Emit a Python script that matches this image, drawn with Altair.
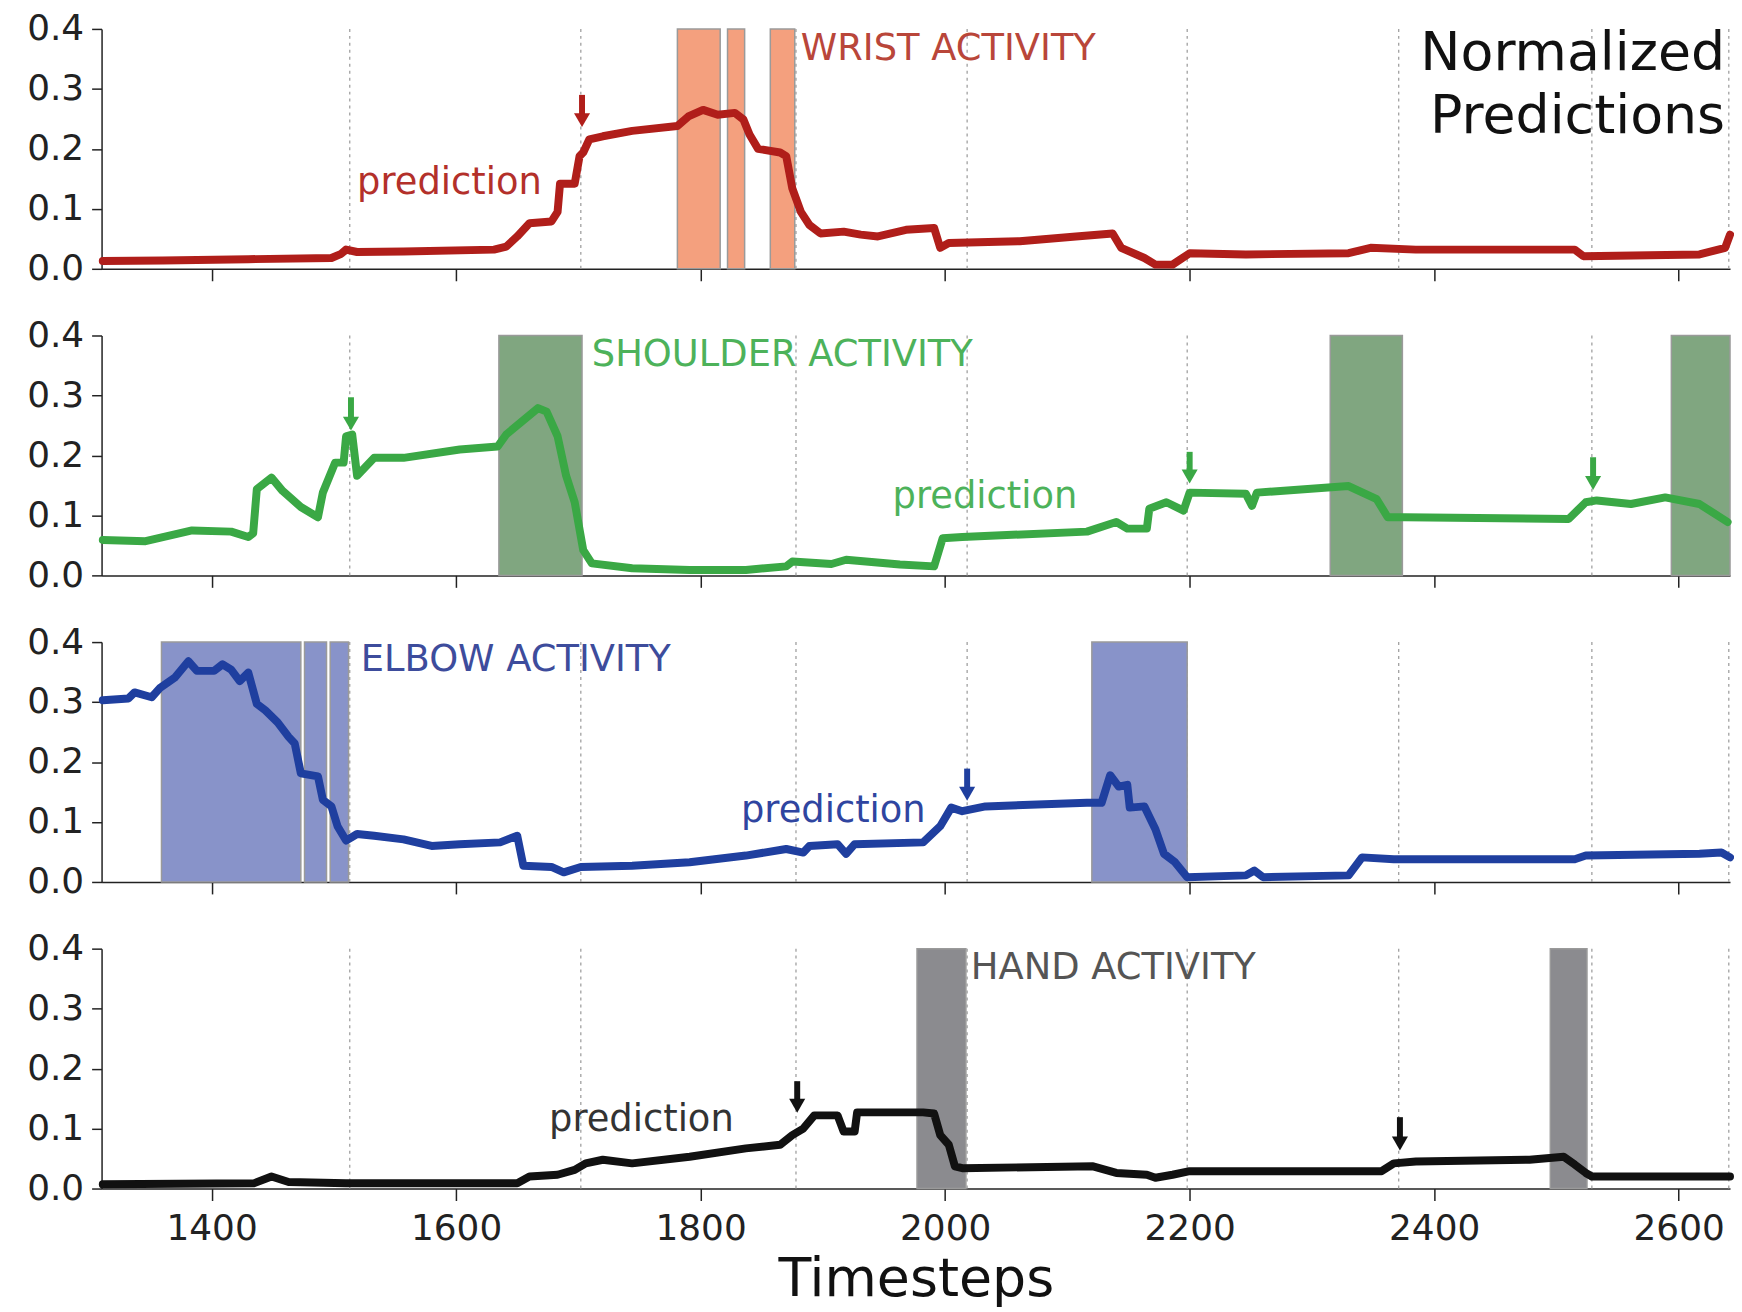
import altair as alt
import pandas as pd

# ---------------- data ----------------
X_DOMAIN = [1310, 2642]
x_ticks = [1400, 1600, 1800, 2000, 2200, 2400, 2600]
y_ticks = [0.0, 0.1, 0.2, 0.3, 0.4]
events = [1513, 1702, 1878, 2018, 2198, 2371, 2529, 2641]

wrist_x = [1311, 1360, 1430, 1498, 1506, 1510, 1519, 1557, 1631, 1641, 1650, 1660, 1678, 1683, 1685, 1697,
           1701, 1704, 1709, 1720, 1744, 1781, 1790, 1802, 1814, 1828, 1835, 1840, 1847, 1865, 1870, 1875,
           1882, 1889, 1898, 1917, 1931, 1945, 1968, 1991, 1996, 2003, 2061, 2107, 2137, 2144, 2163, 2172,
           2186, 2200, 2246, 2330, 2348, 2385, 2515, 2522, 2617, 2638, 2642]
wrist_y = [0.013, 0.014, 0.016, 0.018, 0.025, 0.032, 0.028, 0.029, 0.032, 0.037, 0.054, 0.076, 0.079, 0.095,
           0.142, 0.142, 0.188, 0.194, 0.216, 0.221, 0.230, 0.238, 0.254, 0.265, 0.257, 0.260, 0.249, 0.224,
           0.200, 0.194, 0.188, 0.134, 0.095, 0.073, 0.059, 0.062, 0.057, 0.054, 0.065, 0.068, 0.035, 0.043,
           0.046, 0.054, 0.059, 0.035, 0.018, 0.007, 0.007, 0.026, 0.024, 0.026, 0.035, 0.032, 0.032, 0.021,
           0.024, 0.035, 0.057]

shoulder_x = [1311, 1346, 1384, 1416, 1430, 1434, 1437, 1449, 1458, 1473, 1487, 1491, 1501, 1508, 1510, 1515,
              1519, 1533, 1557, 1603, 1634, 1641, 1667, 1674, 1683, 1690, 1697, 1704, 1711, 1744, 1791, 1837,
              1870, 1875, 1907, 1919, 1963, 1991, 1998, 2014, 2116, 2140, 2149, 2165, 2167, 2181, 2195, 2200,
              2246, 2251, 2255, 2330, 2353, 2362, 2376, 2510, 2524, 2533, 2561, 2589, 2617, 2640]
shoulder_y = [0.059, 0.057, 0.075, 0.073, 0.064, 0.070, 0.144, 0.163, 0.141, 0.114, 0.097, 0.138, 0.188, 0.188,
              0.232, 0.235, 0.166, 0.196, 0.196, 0.210, 0.215, 0.235, 0.279, 0.273, 0.232, 0.166, 0.122, 0.042,
              0.020, 0.012, 0.009, 0.009, 0.015, 0.023, 0.019, 0.026, 0.018, 0.015, 0.062, 0.064, 0.073, 0.089,
              0.078, 0.078, 0.111, 0.122, 0.108, 0.138, 0.136, 0.116, 0.138, 0.149, 0.127, 0.097, 0.097, 0.094,
              0.122, 0.125, 0.119, 0.130, 0.119, 0.089]

elbow_x = [1311, 1332, 1337, 1351, 1358, 1370, 1381, 1388, 1402, 1409, 1416, 1423, 1430, 1437, 1444, 1454,
           1463, 1468, 1473, 1487, 1491, 1498, 1503, 1510, 1519, 1533, 1557, 1580, 1603, 1636, 1650, 1655,
           1678, 1688, 1702, 1744, 1791, 1837, 1870, 1884, 1889, 1912, 1919, 1926, 1982, 1996, 2005, 2014,
           2033, 2116, 2128, 2135, 2142, 2149, 2151, 2163, 2172, 2179, 2188, 2198, 2246, 2253, 2260, 2330,
           2341, 2367, 2515, 2524, 2617, 2635, 2642]
elbow_y = [0.303, 0.306, 0.316, 0.308, 0.324, 0.341, 0.368, 0.352, 0.352, 0.363, 0.354, 0.335, 0.349, 0.297,
           0.286, 0.266, 0.242, 0.231, 0.181, 0.176, 0.137, 0.126, 0.093, 0.069, 0.080, 0.077, 0.071, 0.060,
           0.063, 0.066, 0.077, 0.027, 0.025, 0.016, 0.025, 0.027, 0.033, 0.044, 0.055, 0.049, 0.060, 0.063,
           0.047, 0.063, 0.066, 0.093, 0.124, 0.118, 0.126, 0.132, 0.132, 0.178, 0.159, 0.162, 0.124, 0.126,
           0.088, 0.047, 0.033, 0.008, 0.011, 0.019, 0.008, 0.011, 0.041, 0.038, 0.038, 0.044, 0.047, 0.049,
           0.041]

hand_x = [1311, 1435, 1449, 1463, 1510, 1650, 1660, 1683, 1697, 1706, 1720, 1744, 1791, 1837, 1865, 1875,
          1884, 1893, 1912, 1917, 1926, 1928, 1982, 1991, 1996, 2003, 2008, 2014, 2121, 2140, 2165, 2172,
          2186, 2200, 2357, 2367, 2385, 2478, 2506, 2515, 2524, 2529, 2642]
hand_y = [0.007, 0.009, 0.020, 0.011, 0.009, 0.009, 0.020, 0.023, 0.031, 0.042, 0.048, 0.042, 0.053, 0.067,
          0.073, 0.089, 0.100, 0.122, 0.122, 0.095, 0.095, 0.127, 0.127, 0.125, 0.089, 0.073, 0.037, 0.034,
          0.037, 0.026, 0.023, 0.018, 0.023, 0.029, 0.029, 0.042, 0.045, 0.048, 0.053, 0.040, 0.026, 0.020,
          0.020]

# activity intervals
wrist_start, wrist_end = [1781, 1822, 1857], [1816, 1836, 1877]
shoulder_start, shoulder_end = [1635, 2315, 2594], [1703, 2374, 2642]
elbow_start, elbow_end = [1359, 1476, 1497, 2120], [1473, 1494, 1512, 2198]
hand_start, hand_end = [1977, 2495], [2017, 2525]

# arrows (x, top, tip)
wrist_arrows = ([1703], [0.290], [0.235])
shoulder_arrows = ([1514, 2200, 2530], [0.297, 0.206, 0.197], [0.240, 0.152, 0.141])
elbow_arrows = ([2018], [0.189], [0.134])
hand_arrows = ([1879, 2372], [0.179, 0.119], [0.125, 0.062])

panels = [
    dict(x=wrist_x, y=wrist_y, s=wrist_start, e=wrist_end, arr=wrist_arrows,
         line="#b01e1a", bar="#f4a07e", tcol="#b9463a", pcol="#b3302a",
         label="WRIST ACTIVITY", lx=1882, ly=0.349, px=1519, py=0.125),
    dict(x=shoulder_x, y=shoulder_y, s=shoulder_start, e=shoulder_end, arr=shoulder_arrows,
         line="#3aa845", bar="#80a680", tcol="#4db25a", pcol="#4db25a",
         label="SHOULDER ACTIVITY", lx=1711, ly=0.349, px=1957, py=0.112),
    dict(x=elbow_x, y=elbow_y, s=elbow_start, e=elbow_end, arr=elbow_arrows,
         line="#1f3f9f", bar="#8893c9", tcol="#3d4c9c", pcol="#2f45a0",
         label="ELBOW ACTIVITY", lx=1522, ly=0.352, px=1833, py=0.100),
    dict(x=hand_x, y=hand_y, s=hand_start, e=hand_end, arr=hand_arrows,
         line="#111111", bar="#8b8b8f", tcol="#555555", pcol="#333333",
         label="HAND ACTIVITY", lx=2021, ly=0.350, px=1676, py=0.096),
]

title_lines = ["Normalized", "Predictions"]
title_x = [2638, 2638]
title_y = [0.331, 0.226]

FONT = "DejaVu Sans"
AX = "#222222"

xs = alt.Scale(domain=X_DOMAIN, nice=False, zero=False)
ys = alt.Scale(domain=[0, 0.4], nice=False)


def make_panel(p, bottom, first):
    if bottom:
        xax = alt.Axis(values=x_ticks, format="d", labelFontSize=36, labelFont=FONT, labelColor=AX,
                       tickSize=12, tickWidth=1.5, tickColor=AX, domainColor=AX, domainWidth=1.5,
                       labelPadding=11, grid=False, title="Timesteps", titleFontSize=54,
                       titleFont=FONT, titleFontWeight="normal", titleColor="#111", titlePadding=6)
    else:
        xax = alt.Axis(values=x_ticks, labels=False, tickSize=12, tickWidth=1.5, tickColor=AX,
                       domainColor=AX, domainWidth=1.5, grid=False, title=None)
    yax = alt.Axis(values=y_ticks, format=".1f", labelFontSize=36, labelFont=FONT, labelColor=AX,
                   tickSize=10, tickWidth=1.5, tickColor=AX, domainColor=AX, domainWidth=1.5,
                   labelPadding=8, grid=False, title=None)

    X = lambda f: alt.X(f, type="quantitative", scale=xs, axis=xax)
    Y = lambda f: alt.Y(f, type="quantitative", scale=ys, axis=yax)

    ev = pd.DataFrame({"x": events})
    rules = alt.Chart(ev).mark_rule(color="#a0a0a0", strokeDash=[3, 4], strokeWidth=1.3).encode(x=X("x"))

    bars_df = pd.DataFrame({"s": p["s"], "e": p["e"], "y0": [0.0] * len(p["s"]), "y1": [0.4] * len(p["s"])})
    bars = alt.Chart(bars_df).mark_rect(color=p["bar"], stroke="#9a9a9a", strokeWidth=1.5, opacity=1).encode(
        x=X("s"), x2="e", y=Y("y0"), y2="y1")

    line_df = pd.DataFrame({"x": p["x"], "y": p["y"]})
    line = alt.Chart(line_df).mark_line(color=p["line"], strokeWidth=8, strokeJoin="round",
                                        strokeCap="round").encode(x=X("x"), y=Y("y"))

    ax_, atop, atip = p["arr"]
    arr_df = pd.DataFrame({"x": ax_, "top": atop, "shaft_end": [t + 0.02 for t in atip],
                           "head": [t + 0.013 for t in atip]})
    shafts = alt.Chart(arr_df).mark_rule(color=p["line"], strokeWidth=6).encode(
        x=X("x"), y=Y("top"), y2="shaft_end")
    heads = alt.Chart(arr_df).mark_point(shape="triangle-down", filled=True, size=260, opacity=1,
                                         color=p["line"]).encode(x=X("x"), y=Y("head"))

    lab_df = pd.DataFrame({"x": [p["lx"]], "y": [p["ly"]], "t": [p["label"]]})
    lab = alt.Chart(lab_df).mark_text(align="left", baseline="alphabetic", font=FONT, fontSize=37,
                                      color=p["tcol"]).encode(x=X("x"), y=Y("y"), text="t:N")
    pred_df = pd.DataFrame({"x": [p["px"]], "y": [p["py"]], "t": ["prediction"]})
    pred = alt.Chart(pred_df).mark_text(align="left", baseline="alphabetic", font=FONT, fontSize=37,
                                        color=p["pcol"]).encode(x=X("x"), y=Y("y"), text="t:N")

    layers = [rules, bars, line, shafts, heads, lab, pred]
    if first:
        t_df = pd.DataFrame({"x": title_x, "y": title_y, "t": title_lines})
        layers.append(alt.Chart(t_df).mark_text(align="right", baseline="alphabetic", font=FONT,
                                                fontSize=54, color="#111").encode(
            x=X("x"), y=Y("y"), text="t:N"))
    return alt.layer(*layers).properties(width=1636, height=241)


charts = [make_panel(p, i == 3, i == 0) for i, p in enumerate(panels)]

chart = alt.vconcat(*charts, spacing=67, bounds="flush").properties(
    padding={"left": 18, "top": 0, "right": 0, "bottom": 0}
).configure(background="white").configure_view(stroke=None)

chart.save("out.html", embed_options={"renderer": "svg", "actions": False})
